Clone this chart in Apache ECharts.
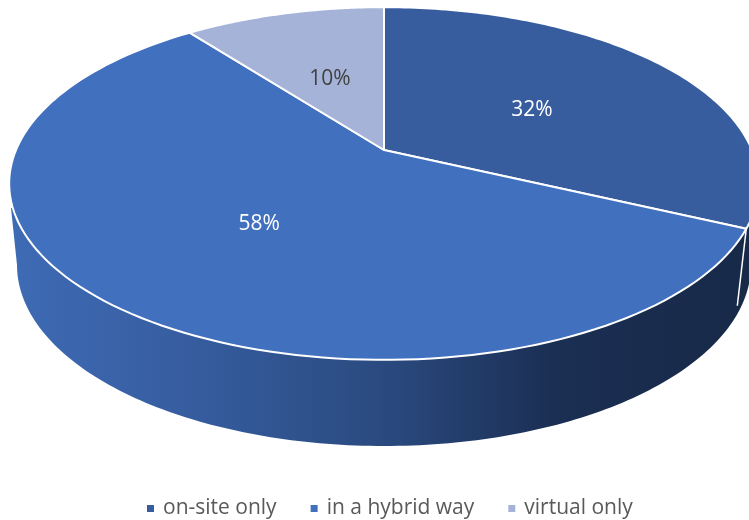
<!DOCTYPE html>
<html><head><meta charset="utf-8">
<style>html,body{margin:0;padding:0;background:#fff}#c{width:749px;height:520px}</style>
<script src="https://cdn.jsdelivr.net/npm/echarts@6/dist/echarts.min.js"></script>
</head><body><div id="c"></div>
<script>
const categories = ['on-site only', 'in a hybrid way', 'virtual only'];
const shares = [32, 57.6, 10.4];
const shareLabels = ['32%', '58%', '10%'];
const colors = ['#385d9f', '#4170bf', '#a5b3d8'];
const labelColors = ['#ffffff', '#ffffff', '#404040'];

// Perspective view of the pie's top disc
const view = { cx: 384, cy: 150, a: 368, b: 170, p: -0.19 };
// Lower rim of the drum
const rim = { cx: 384, cy: 265, rx: 367, ry: 181 };
const total = shares.reduce((s, v) => s + v, 0);

function project(theta, r) {
  const u = r * Math.sin(theta), v = -r * Math.cos(theta);
  const d = 1 + view.p * v;
  return [view.cx + view.a * u / d, view.cy + view.b * v / d];
}
function startAngle(i) {
  let acc = 0;
  for (let k = 0; k < i; k++) acc += shares[k];
  return acc / total * Math.PI * 2;
}
function sector(i, value) {
  const t0 = startAngle(i), t1 = t0 + value / total * Math.PI * 2;
  const pts = [project(0, 0)];
  const n = 120;
  for (let k = 0; k <= n; k++) pts.push(project(t0 + (t1 - t0) * k / n, 1));
  return { pts, t0, t1 };
}
function renderSlice(i) {
  return function (params, api) {
    const value = api.value(0);
    const s = sector(i, value);
    const mid = project((s.t0 + s.t1) / 2, 0.5);
    const children = [
      { type: 'polygon', shape: { points: s.pts }, style: { fill: colors[i], stroke: '#fff', lineWidth: 2, lineJoin: 'round' } },
      { type: 'text', z2: 10, style: { x: mid[0], y: mid[1] + 3, text: shareLabels[i], fill: labelColors[i], font: '21px "Open Sans"', align: 'center', verticalAlign: 'middle' } }
    ];
    return { type: 'group', children };
  };
}
function renderWall() {
  const pts = [[11, 208], [17, 265]];
  const n = 160;
  for (let k = 0; k <= n; k++) {
    const f = Math.PI - Math.PI * k / n;
    pts.push([rim.cx + rim.rx * Math.cos(f), rim.cy + rim.ry * Math.sin(f)]);
  }
  pts.push([760, 208]);
  const e = project(startAngle(1), 1);
  return {
    type: 'group', children: [
      { type: 'polygon', shape: { points: pts }, style: { fill: {
        type: 'linear', x: 0, y: 0, x2: 1, y2: 0,
        colorStops: [
          { offset: 0, color: '#3e6bb5' }, { offset: 0.25, color: '#365c9e' },
          { offset: 0.5, color: '#2a4a7f' }, { offset: 0.72, color: '#1b2f54' },
          { offset: 1, color: '#172947' }] } } },
      { type: 'line', shape: { x1: e[0], y1: e[1], x2: e[0] - 9, y2: e[1] + 77 }, style: { stroke: '#fff', lineWidth: 1.5 } }
    ]
  };
}

const series = [{ type: 'custom', name: 'drum', coordinateSystem: 'none', z: 1, silent: true, renderItem: renderWall, data: [[1]] }];
categories.forEach((name, i) => series.push({
  type: 'custom', name, coordinateSystem: 'none', z: 2, renderItem: renderSlice(i), data: [[shares[i]]],
  itemStyle: { color: colors[i] }
}));

const chart = echarts.init(document.getElementById('c'), null, { renderer: 'canvas' });
chart.setOption({
  animation: false,
  backgroundColor: '#fff',
  legend: {
    data: categories, left: 142, top: 493, icon: 'rect', itemWidth: 7, itemHeight: 7, itemGap: 34,
    textStyle: { color: '#595959', fontSize: 21, fontFamily: 'Open Sans', padding: [0, 0, 0, 4] }
  },
  series
});
</script></body></html>
